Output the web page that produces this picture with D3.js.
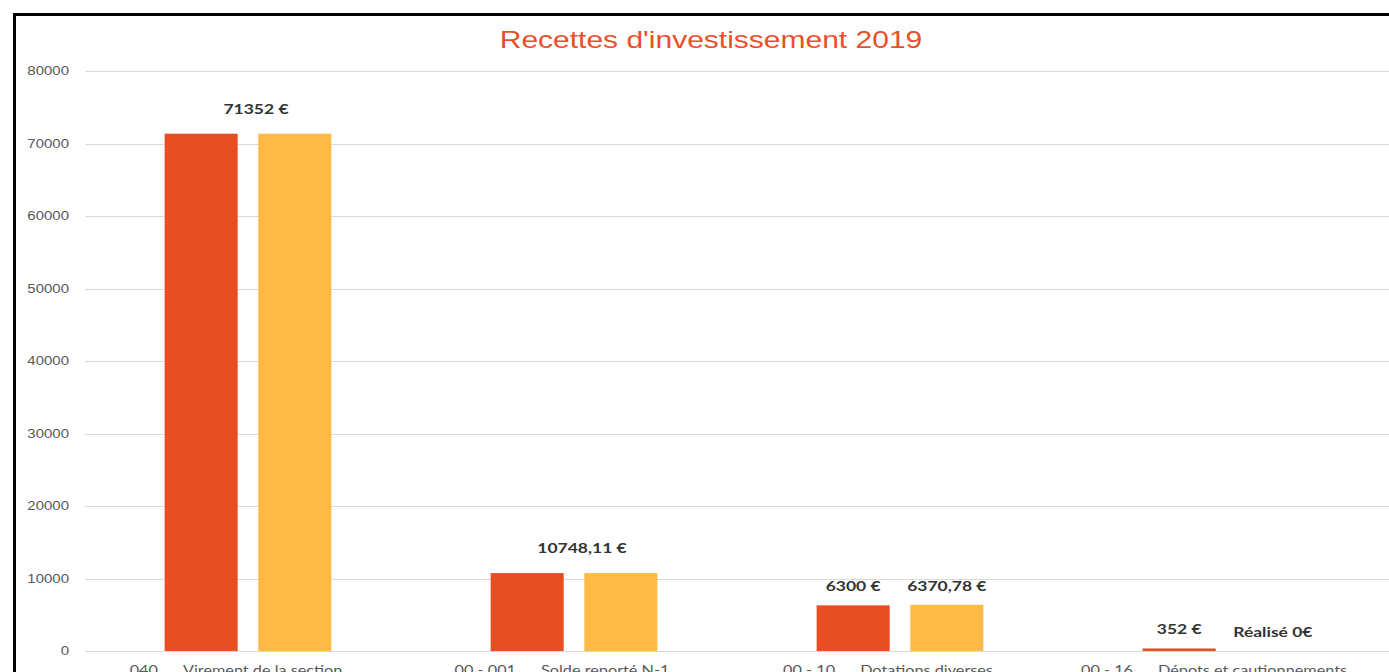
<!DOCTYPE html>
<html>
<head>
<meta charset="utf-8">
<script src="https://cdn.jsdelivr.net/npm/d3@7/dist/d3.min.js"></script>
<style>
  body { margin: 0; background: #fff; }
  svg { display: block; }
</style>
</head>
<body>
<svg id="chart"></svg>
<script>
// chart values
const codes = ['040', '00 - 001', '00 - 10', '00 - 16'];
const names = ['Virement de la section', 'Solde reporté N-1', 'Dotations diverses', 'Dépots et cautionnements'];
const series = ['prevu', 'realise'];
const prevu = [71352, 10748.11, 6300, 352];
const realise = [71352, 10748.11, 6370.78, 0];
const yTicks = [0, 10000, 20000, 30000, 40000, 50000, 60000, 70000, 80000];
// value labels: one shared label when both bars match, otherwise one per bar
const labelText = [
  ['71352 €'],
  ['10748,11 €'],
  ['6300 €', '6370,78 €'],
  ['352 €', 'Réalisé 0€']
];

const W = 1389, H = 672;
const SX = 1.25; // the picture is stretched sideways, so is the text
const colors = {prevu: '#E84E24', realise: '#FFBA45'};

const svg = d3.select('#chart').attr('width', W).attr('height', H);

const plot = {left: 85, right: 1389, top: 71, bottom: 651};

const x0 = d3.scaleBand().domain(d3.range(codes.length)).range([plot.left, plot.right]);
const x1 = d3.scaleBand().domain(series).range([0, x0.bandwidth()])
    .paddingInner(0.22).paddingOuter(0.85);
const y = d3.scaleLinear().domain([0, 80000]).range([plot.bottom, plot.top]);

function stretched(sel, px, py) {
  return sel.attr('transform', `translate(${px},${py}) scale(${SX},1)`);
}

// frame
svg.append('rect')
    .attr('x', 14.5).attr('y', 14.5)
    .attr('width', 1420).attr('height', 700)
    .attr('fill', 'none').attr('stroke', '#000').attr('stroke-width', 3);

// title
stretched(svg.append('text'), 711, 48)
    .attr('text-anchor', 'middle')
    .attr('font-family', 'Liberation Sans, Arial, sans-serif')
    .attr('font-size', 24)
    .attr('fill', '#E8502A')
    .text("Recettes d'investissement 2019");

// grid + y ticks
const grid = svg.append('g');
grid.selectAll('line').data(yTicks).join('line')
    .attr('x1', plot.left).attr('x2', plot.right)
    .attr('y1', d => Math.round(y(d)) + 0.5).attr('y2', d => Math.round(y(d)) + 0.5)
    .attr('stroke', '#d9d9d9').attr('stroke-width', 1);

grid.selectAll('text').data(yTicks).join('text')
    .each(function(d) { stretched(d3.select(this), 69, y(d) + 4); })
    .attr('text-anchor', 'end')
    .attr('font-family', 'Liberation Sans, Arial, sans-serif')
    .attr('font-size', 12)
    .attr('fill', '#595959')
    .text(d => d);

// bars
const rows = codes.map((c, i) => ({i, prevu: prevu[i], realise: realise[i]}));
const groups = svg.append('g').selectAll('g').data(rows).join('g')
    .attr('transform', d => `translate(${x0(d.i)},0)`);

groups.selectAll('rect')
    .data(d => series.map(k => ({key: k, value: d[k]})))
    .join('rect')
    .attr('x', d => x1(d.key))
    .attr('width', x1.bandwidth())
    .attr('y', d => y(d.value))
    .attr('height', d => y(0) - y(d.value))
    .attr('fill', d => colors[d.key]);

// value labels
groups.each(function(d) {
  const g = d3.select(this);
  const texts = labelText[d.i];
  texts.forEach((t, j) => {
    let px, py;
    if (texts.length === 1) {
      px = x0.bandwidth() / 2 + 8;
      py = y(Math.max(d.prevu, d.realise)) - 20;
    } else {
      const k = series[j];
      px = x1(k) + x1.bandwidth() / 2;
      py = y(d[k]) - 14;
    }
    stretched(g.append('text'), px, py)
        .attr('text-anchor', 'middle')
        .attr('font-family', 'Lato, "Open Sans", sans-serif')
        .attr('font-weight', 'bold')
        .attr('font-size', 14)
        .attr('fill', '#333')
        .text(t);
  });
});

// category labels (cut off at the bottom of the picture)
groups.each(function(d) {
  const t = stretched(d3.select(this).append('text'), x0.bandwidth() / 2 - 12, 675)
      .attr('text-anchor', 'middle')
      .attr('font-family', 'Lato, "Open Sans", sans-serif')
      .attr('font-size', 13)
      .attr('fill', '#595959');
  t.append('tspan').text(codes[d.i]);
  t.append('tspan').attr('dx', 20).text(names[d.i]);
});
</script>
</body>
</html>
